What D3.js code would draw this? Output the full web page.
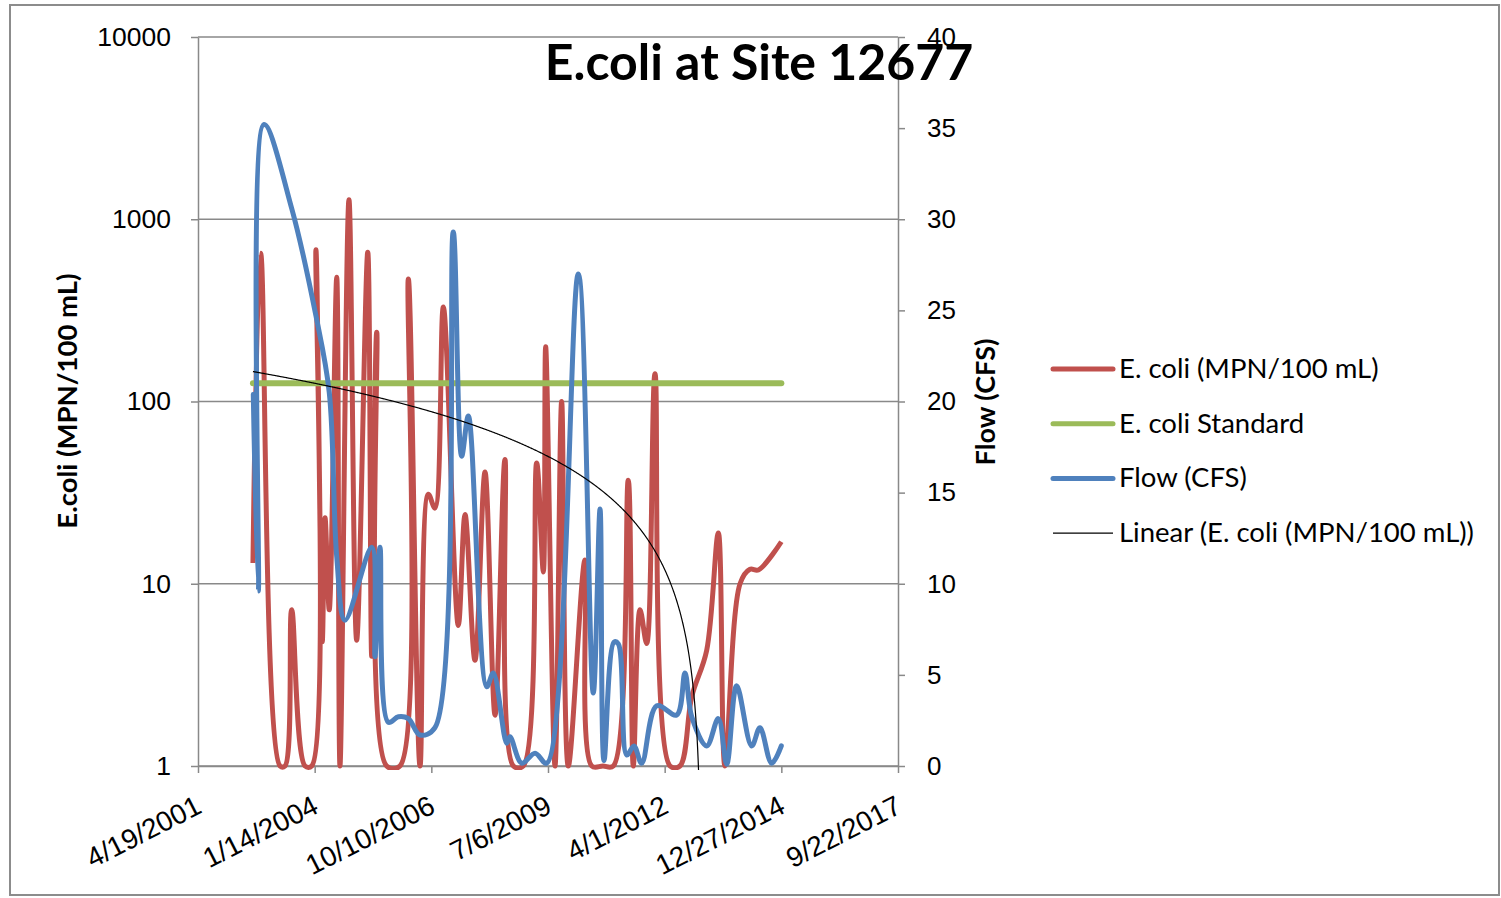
<!DOCTYPE html>
<html>
<head>
<meta charset="utf-8">
<script src="https://cdn.jsdelivr.net/npm/d3@7"></script>
<style>
  body { margin: 0; background: #fff; }
  svg { font-family: Lato, 'Open Sans', sans-serif; }
</style>
</head>
<body>
<svg id="chart" width="1501" height="898"></svg>
<script>
// dates are Excel serials (days since 12/30/1899)
const ecoliDates = [37471, 37537, 37703, 37746, 37803, 37917, 37975, 38011, 38065, 38089,
  38125, 38189, 38217, 38294, 38360, 38455, 38489, 38532, 38617, 38731,
  38803, 38903, 38974, 39031, 39103, 39231, 39289, 39374, 39460, 39546,
  39631, 39703, 39788, 39903, 39960, 39980, 40060, 40117, 40174, 40317,
  40375, 40471, 40560, 40688, 40731, 40789, 40846, 40917, 41046, 41131,
  41232, 41360, 41460, 41517, 41646, 41731, 41803, 42000]
const ecoliValues = [13, 650, 1, 1, 7.2, 1, 1, 680, 4.8, 23,
  7.2, 480, 1, 1280, 4.9, 660, 4, 240, 1, 1,
  470, 1, 31, 26, 330, 5.9, 24, 3.8, 41, 1.9,
  48, 1, 1, 46, 11.6, 200, 1, 100, 1, 13.5,
  1, 1, 1, 37, 1, 7.2, 4.7, 142, 1, 1,
  2.4, 4.3, 19, 1, 10, 12, 11.9, 17]

const flowDates = [37474, 37517, 37566, 37803, 38011, 38125, 38189, 38260, 38489, 38517,
  38560, 38631, 38717, 38803, 38903, 39031, 39188, 39260, 39317, 39475,
  39531, 39646, 39674, 39775, 39889, 39989, 40260, 40388, 40446, 40480,
  40566, 40603, 40675, 40737, 40803, 40932, 41103, 41174, 41232, 41360,
  41460, 41532, 41617, 41746, 41817, 41917, 42000]
const flowValues = [20.4, 9.6, 35.2, 30.6, 24.7, 20.5, 11.5, 8.0, 12.0, 6.0,
  12.0, 2.4, 2.7, 2.6, 1.7, 2.1, 29.3, 17.0, 19.2, 4.35,
  5.1, 1.25, 1.6, 0.15, 0.7, 0.15, 27.0, 4.0, 14.1, 0.3,
  6.8, 6.7, 0.6, 1.1, 0.15, 3.3, 2.8, 5.1, 2.7, 1.1,
  2.6, 0.1, 4.4, 1.1, 2.1, 0.15, 1.1]

const standardDates = [37471, 42000]
const standardValue = 126

// linear trendline of E. coli as Excel drew it: [date, value] at both ends
const trendEnds = [[37471, 146], [42000, -26]]

const xTickSerials = [37000, 38000, 39000, 40000, 41000, 42000, 43000]
const leftTicks = [1, 10, 100, 1000, 10000]
const rightTicks = [0, 5, 10, 15, 20, 25, 30, 35, 40]

const titleText = 'E.coli at Site 12677'
const leftTitle = 'E.coli (MPN/100 mL)'
const rightTitle = 'Flow (CFS)'
const legendLabels = ['E. coli (MPN/100 mL)', 'E. coli Standard', 'Flow (CFS)', 'Linear (E. coli (MPN/100 mL))']

const red = '#C0504D'
const green = '#9BBB59'
const blue = '#4F81BD'
const gridColor = '#898989'

const serialToDate = s => new Date(Date.UTC(1899, 11, 30) + s * 864e5)

const plot = { left: 198, right: 898, top: 37, bottom: 766 }

const svg = d3.select('#chart')

svg.append('rect')
  .attr('x', 10).attr('y', 5)
  .attr('width', 1489).attr('height', 890)
  .attr('fill', '#fff')
  .attr('stroke', '#8c8c8c')
  .attr('stroke-width', 2)

const x = d3.scaleUtc()
  .domain([serialToDate(xTickSerials[0]), serialToDate(xTickSerials[xTickSerials.length - 1])])
  .range([plot.left, plot.right])
const yLeft = d3.scaleLog().domain([1, 10000]).range([plot.bottom, plot.top])
const yRight = d3.scaleLinear().domain([0, 40]).range([plot.bottom, plot.top])

// gridlines
svg.append('g')
  .selectAll('line')
  .data(leftTicks)
  .join('line')
  .attr('x1', plot.left).attr('x2', plot.right)
  .attr('y1', d => yLeft(d)).attr('y2', d => yLeft(d))
  .attr('stroke', gridColor)
  .attr('stroke-width', 1.5)

const styleAxis = g => {
  g.select('.domain').attr('stroke', gridColor).attr('stroke-width', 1.5)
  g.selectAll('.tick line').attr('stroke', gridColor).attr('stroke-width', 1.5)
  g.selectAll('.tick text').attr('fill', '#000').attr('font-size', 26)
}

svg.append('g')
  .attr('transform', `translate(${plot.left},0)`)
  .call(d3.axisLeft(yLeft).tickValues(leftTicks).tickFormat(d3.format('d')).tickSize(7).tickPadding(20).tickSizeOuter(0))
  .call(styleAxis)
  .call(g => g.selectAll('.tick text').attr('font-size', 26.5))

svg.append('g')
  .attr('transform', `translate(${plot.right},0)`)
  .call(d3.axisRight(yRight).tickValues(rightTicks).tickSize(7).tickPadding(22).tickSizeOuter(0))
  .call(styleAxis)

svg.append('g')
  .attr('transform', `translate(0,${plot.bottom})`)
  .call(d3.axisBottom(x).tickValues(xTickSerials.map(serialToDate))
    .tickFormat(d3.utcFormat('%-m/%-d/%Y')).tickSize(7).tickSizeOuter(0))
  .call(styleAxis)
  .call(g => g.selectAll('.tick text')
    .attr('font-size', 28)
    .attr('text-anchor', 'end')
    .attr('dy', null)
    .attr('y', 0)
    .attr('transform', 'translate(5,46) rotate(-27)'))

// data
svg.append('clipPath').attr('id', 'plot-clip')
  .append('rect')
  .attr('x', plot.left).attr('y', 0)
  .attr('width', plot.right - plot.left)
  .attr('height', plot.bottom + 4)

const series = svg.append('g').attr('clip-path', 'url(#plot-clip)')

const ecoliData = ecoliDates.map((d, i) => ({ date: serialToDate(d), value: ecoliValues[i] }))
const flowData = flowDates.map((d, i) => ({ date: serialToDate(d), value: flowValues[i] }))

const smooth = d3.curveCatmullRom.alpha(0.5)

series.append('path')
  .datum(ecoliData)
  .attr('fill', 'none')
  .attr('stroke', red)
  .attr('stroke-width', 5)
  .attr('stroke-linejoin', 'round')
  .attr('d', d3.line().x(d => x(d.date)).y(d => yLeft(d.value)).curve(smooth))

series.append('path')
  .datum(standardDates.map(serialToDate))
  .attr('fill', 'none')
  .attr('stroke', green)
  .attr('stroke-width', 6)
  .attr('stroke-linecap', 'round')
  .attr('d', d3.line().x(d => x(d)).y(() => yLeft(standardValue)))

series.append('path')
  .datum(flowData)
  .attr('fill', 'none')
  .attr('stroke', blue)
  .attr('stroke-width', 5)
  .attr('stroke-linejoin', 'round')
  .attr('stroke-linecap', 'round')
  .attr('d', d3.line().x(d => x(d.date)).y(d => yRight(d.value)).curve(smooth))

// trendline is straight in value space, so sample it for the log axis
const [[t0, v0], [t1, v1]] = trendEnds
const trendData = d3.range(t0, t1 + 1, 4).map(t => ({
  date: serialToDate(t),
  value: v0 + ((v1 - v0) * (t - t0)) / (t1 - t0),
}))
series.append('path')
  .datum(trendData.filter(d => d.value > 0.05))
  .attr('fill', 'none')
  .attr('stroke', '#000')
  .attr('stroke-width', 1.2)
  .attr('d', d3.line().x(d => x(d.date)).y(d => yLeft(d.value)))

// titles
svg.append('text')
  .attr('x', 759).attr('y', 80)
  .attr('text-anchor', 'middle')
  .attr('font-size', 50)
  .attr('font-weight', 'bold')
  .text(titleText)

svg.append('text')
  .attr('transform', 'translate(77,401) rotate(-90)')
  .attr('text-anchor', 'middle')
  .attr('font-size', 27.5)
  .attr('font-weight', 'bold')
  .text(leftTitle)

svg.append('text')
  .attr('transform', 'translate(995,402) rotate(-90)')
  .attr('text-anchor', 'middle')
  .attr('font-size', 27)
  .attr('font-weight', 'bold')
  .text(rightTitle)

// legend
const legendStyles = [
  { color: red, width: 5 },
  { color: green, width: 5 },
  { color: blue, width: 5 },
  { color: '#000', width: 1.2 },
]
const legend = svg.append('g')
  .selectAll('g')
  .data(legendLabels)
  .join('g')
  .attr('transform', (d, i) => `translate(1053,${369 + i * 54.7})`)

legend.append('line')
  .attr('x1', 0).attr('x2', 60)
  .attr('stroke', (d, i) => legendStyles[i].color)
  .attr('stroke-width', (d, i) => legendStyles[i].width)
  .attr('stroke-linecap', (d, i) => (i < 3 ? 'round' : 'butt'))

legend.append('text')
  .attr('x', 66)
  .attr('y', 9)
  .attr('font-size', 27.5)
  .text(d => d)
</script>
</body>
</html>
